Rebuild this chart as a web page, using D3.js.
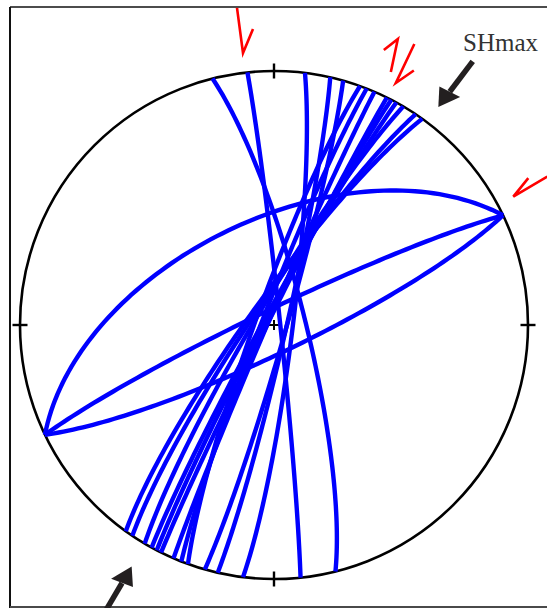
<!DOCTYPE html>
<html><head><meta charset="utf-8">
<script src="https://cdn.jsdelivr.net/npm/d3@7"></script>
<style>html,body{margin:0;padding:0;background:#fff;} svg{display:block;}</style>
</head><body>
<svg id="net" width="547" height="608"></svg>
<script>
// Fault planes: right-hand-rule strike and dip, lower-hemisphere equal-area net
const faultStrikes = [346, 354, 7, 244.4, 64.4, 244.4, 12.8, 15.8, 199.8, 201.4, 203.3, 206.4, 207.5, 208.8, 210.6, 213.9, 215.7];
const faultDips    = [80, 88, 84, 85, 81, 56, 86, 86, 84, 86, 88, 88, 87, 86.5, 84, 83, 82];
// Maximum horizontal stress: azimuths of the two inward arrows
const shmaxAzimuths = [37, 210.5];
const shmaxLabel = "SHmax";
const tickAzimuths = [0, 90, 180, 270];

const W = 547, H = 608, cx = 274, cy = 325, R = 254;
const rad = Math.PI / 180;
const x = d3.scaleLinear().domain([-1, 1]).range([cx - R, cx + R]);
const y = d3.scaleLinear().domain([-1, 1]).range([cy + R, cy - R]);
const svg = d3.select("#net");

function project(trend, plunge) {
  const r = Math.SQRT2 * Math.sin((90 - plunge) / 2 * rad);
  return [r * Math.sin(trend * rad), r * Math.cos(trend * rad)];
}
function polar(az, rn) {
  return [x(rn * Math.sin(az * rad)), y(rn * Math.cos(az * rad))];
}
function greatCircle(strike, dip) {
  const s = [Math.cos(strike * rad), Math.sin(strike * rad), 0];
  const dd = (strike + 90) * rad;
  const d = [Math.cos(dd) * Math.cos(dip * rad), Math.sin(dd) * Math.cos(dip * rad), Math.sin(dip * rad)];
  const pts = [];
  for (let a = 0; a <= 180; a += 2) {
    const c = Math.cos(a * rad), sn = Math.sin(a * rad);
    const v = [c * s[0] + sn * d[0], c * s[1] + sn * d[1], c * s[2] + sn * d[2]];
    const pl = Math.asin(Math.max(-1, Math.min(1, v[2]))) / rad;
    const tr = Math.atan2(v[1], v[0]) / rad;
    pts.push(project(tr, pl));
  }
  return pts;
}

// frame
svg.append("line").attr("x1", 10).attr("y1", 7).attr("x2", W).attr("y2", 7)
  .attr("stroke", "#111").attr("stroke-width", 1.6);
svg.append("line").attr("x1", 10).attr("y1", 7).attr("x2", 10).attr("y2", H)
  .attr("stroke", "#111").attr("stroke-width", 2);
svg.append("line").attr("x1", 10).attr("y1", 607).attr("x2", W).attr("y2", 607)
  .attr("stroke", "#4a4a4a").attr("stroke-width", 2);

// primitive circle
svg.append("circle").attr("cx", x(0)).attr("cy", y(0)).attr("r", x(1) - x(0))
  .attr("fill", "none").attr("stroke", "#000").attr("stroke-width", 2.6);

// cardinal ticks and centre cross
tickAzimuths.forEach(az => {
  const a = polar(az, 1 - 7.5 / R), b = polar(az, 1 + 7.5 / R);
  svg.append("line").attr("x1", a[0]).attr("y1", a[1]).attr("x2", b[0]).attr("y2", b[1])
    .attr("stroke", "#000").attr("stroke-width", 2.4);
});
[[-5, 0, 5, 0], [0, -5, 0, 5]].forEach(o => {
  svg.append("line").attr("x1", x(0) + o[0]).attr("y1", y(0) + o[1])
    .attr("x2", x(0) + o[2]).attr("y2", y(0) + o[3])
    .attr("stroke", "#000").attr("stroke-width", 2);
});

// great circles
const line = d3.line().x(d => x(d[0])).y(d => y(d[1]));
svg.append("g").selectAll("path")
  .data(faultStrikes.map((s, i) => greatCircle(s, faultDips[i])))
  .join("path")
  .attr("d", line)
  .attr("fill", "none").attr("stroke", "#0000ff").attr("stroke-width", 4.4)
  .attr("stroke-linejoin", "round");

// slip-sense half arrows (red)
const red = svg.append("g").attr("fill", "none").attr("stroke", "#ff0000")
  .attr("stroke-width", 2.6).attr("stroke-linejoin", "miter").attr("stroke-linecap", "butt");
function halfArrow(anchor, tail, head, barb) {
  const p = [tail, head, barb].map(o => [anchor[0] + o[0], anchor[1] + o[1]]);
  red.append("path").attr("d", d3.line()(p));
}
const topTip = polar(353.5, 1.078);
halfArrow(topTip, [-6, -45], [0, 0], [10, -24]);
const rightTip = polar(61.8, 1.069);
halfArrow(rightTip, [34, -20], [0, 0], [15, -18.5]);
const pair = polar(25.4, 1.155);
halfArrow(pair, [-9, 12], [-2, -21], [-16, -10]);
halfArrow(pair, [14.5, -16], [-4, 23], [14, 10.5]);

// SHmax arrows
shmaxAzimuths.forEach(az => {
  const tip = polar(az, az < 180 ? 1.075 : 1.104);
  const tail = polar(az, 1.30);
  const ux = (tip[0] - tail[0]), uy = (tip[1] - tail[1]);
  const L = Math.hypot(ux, uy), dx = ux / L, dy = uy / L;
  const hl = 21, hw = 11.5;
  const base = [tip[0] - dx * hl, tip[1] - dy * hl];
  svg.append("line").attr("x1", tail[0]).attr("y1", tail[1])
    .attr("x2", base[0] + dx * 2).attr("y2", base[1] + dy * 2)
    .attr("stroke", "#231f20").attr("stroke-width", 5.5);
  svg.append("path")
    .attr("d", d3.line()([tip, [base[0] - dy * hw + dx * 4, base[1] + dx * hw + dy * 4],
      [base[0] + dy * hw, base[1] - dx * hw], tip]))
    .attr("fill", "#231f20");
});

svg.append("text").attr("x", 463).attr("y", 51)
  .attr("font-family", "'Liberation Serif', 'Times New Roman', serif")
  .attr("font-size", 25).attr("fill", "#333").text(shmaxLabel);
</script>
</body></html>
